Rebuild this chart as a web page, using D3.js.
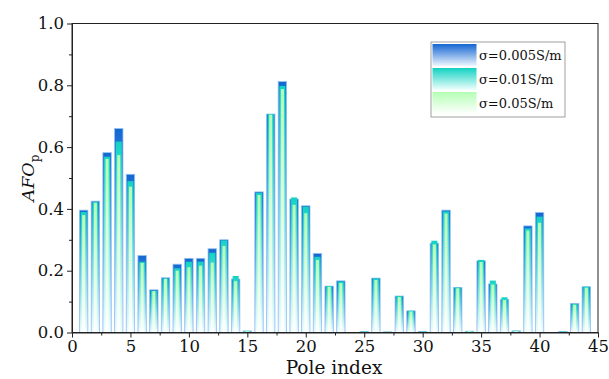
<!DOCTYPE html>
<html><head><meta charset="utf-8">
<script src="https://cdn.jsdelivr.net/npm/d3@7"></script>
<style>body{margin:0;background:#fff}svg{display:block}</style>
</head><body><svg id="c" width="609" height="379"></svg>
<script>
const poles = d3.range(1, 45);
const s005 = [0.396,0.425,0.582,0.660,0.512,0.249,0.138,0.177,0.221,0.240,0.240,0.271,0.300,0.173,0.005,0.455,0.707,0.812,0.432,0.410,0.256,0.150,0.167,0.000,0.003,0.176,0.002,0.118,0.070,0.003,0.289,0.396,0.146,0.004,0.232,0.157,0.107,0.005,0.345,0.388,0.000,0.003,0.094,0.148];
const s01  = [0.390,0.422,0.569,0.618,0.490,0.229,0.135,0.175,0.208,0.229,0.229,0.258,0.298,0.183,0.005,0.452,0.707,0.798,0.437,0.407,0.245,0.150,0.165,0.000,0.003,0.175,0.002,0.118,0.070,0.003,0.297,0.392,0.145,0.005,0.235,0.168,0.114,0.006,0.337,0.375,0.000,0.003,0.092,0.148];
const s05  = [0.380,0.420,0.562,0.574,0.472,0.225,0.134,0.174,0.200,0.211,0.216,0.226,0.280,0.166,0.004,0.445,0.705,0.788,0.413,0.386,0.235,0.148,0.160,0.000,0.002,0.170,0.002,0.115,0.068,0.002,0.285,0.385,0.143,0.004,0.228,0.155,0.105,0.005,0.330,0.355,0.000,0.002,0.090,0.145];
const seriesNames = ["σ=0.005S/m","σ=0.01S/m","σ=0.05S/m"];
const xTicks = [0,5,10,15,20,25,30,35,40,45];
const yTicks = [0,0.2,0.4,0.6,0.8,1.0];

const svg = d3.select("#c");
const L=72, R=598, T=23.5, B=332.5;
const x = d3.scaleLinear().domain([0,45]).range([L,R]);
const y = d3.scaleLinear().domain([0,1]).range([B,T]);
const font = "'DejaVu Serif',serif";

const defs = svg.append("defs");
const grads = [
  {id:"gBlue", top:"#1466d2", mid:"#5aa2ea", bot:"#eef6ff", stroke:"#8ec0f2", w:0.72},
  {id:"gCyan", top:"#12d2c2", mid:"#7eeae0", bot:"#f0fffd", stroke:"none", w:0.52},
  {id:"gGreen", top:"#b4ffb4", mid:"#dcffdc", bot:"#ffffff", stroke:"none", w:0.26}
];
grads.forEach(g=>{
  const lg = defs.append("linearGradient").attr("id",g.id).attr("x1",0).attr("y1",0).attr("x2",0).attr("y2",1);
  lg.append("stop").attr("offset","0%").attr("stop-color",g.top);
  lg.append("stop").attr("offset","45%").attr("stop-color",g.mid);
  lg.append("stop").attr("offset","100%").attr("stop-color",g.bot);
});

const data = [s005, s01, s05];
data.forEach((vals,si)=>{
  const g = grads[si];
  const bw = (x(1)-x(0))*g.w;
  svg.append("g").selectAll("rect").data(poles.map((p,i)=>({p,v:vals[i]})).filter(d=>d.v>0))
    .join("rect")
    .attr("x",d=>x(d.p)-bw/2)
    .attr("width",bw)
    .attr("y",d=>y(d.v))
    .attr("height",d=>Math.max(0.8,B-y(d.v)))
    .attr("fill",`url(#${g.id})`)
    .attr("stroke",g.stroke)
    .attr("stroke-width",g.stroke==="none"?0:0.8);
});

// frame
svg.append("rect").attr("x",L).attr("y",T).attr("width",R-L).attr("height",B-T)
  .attr("fill","none").attr("stroke","#222").attr("stroke-width",1);

// axes
svg.append("g").attr("transform",`translate(0,${B})`)
  .call(d3.axisBottom(x).tickValues(xTicks).tickSize(5).tickSizeOuter(0).tickPadding(3));
svg.append("g").attr("transform",`translate(0,${B})`)
  .call(d3.axisBottom(x).tickValues(d3.range(2.5,45,5)).tickSize(3).tickFormat("").tickSizeOuter(0))
  .select(".domain").remove();
svg.append("g").attr("transform",`translate(${L},0)`)
  .call(d3.axisLeft(y).tickValues(yTicks).tickFormat(d3.format(".1f")).tickSize(5).tickSizeOuter(0).tickPadding(3));
svg.append("g").attr("transform",`translate(${L},0)`)
  .call(d3.axisLeft(y).tickValues([0.1,0.3,0.5,0.7,0.9]).tickSize(3).tickFormat("").tickSizeOuter(0))
  .select(".domain").remove();
svg.selectAll(".tick line, .domain").attr("stroke","#222");
svg.selectAll(".tick text").attr("font-family",font).attr("font-size",16.5).attr("fill","#111");

// axis titles
svg.append("text").attr("x",334).attr("y",374).attr("text-anchor","middle")
  .attr("font-family",font).attr("font-size",18.5).attr("fill","#111").text("Pole index");
const yt = svg.append("text").attr("transform","translate(34,178) rotate(-90)").attr("text-anchor","middle")
  .attr("font-family",font).attr("font-size",17.5).attr("fill","#111");
yt.append("tspan").attr("font-style","italic").text("AFO");
yt.append("tspan").attr("font-size",12).attr("dy",5).text("p");

// legend
const lg = svg.append("g").attr("transform","translate(431,42)");
lg.append("rect").attr("x",0).attr("y",0).attr("width",134).attr("height",75)
  .attr("fill","#fff").attr("stroke","#888").attr("stroke-width",0.8);
grads.forEach((g,i)=>{
  const lgg = defs.append("linearGradient").attr("id","L"+g.id).attr("x1",0).attr("y1",0).attr("x2",0).attr("y2",1);
  lgg.append("stop").attr("offset","0%").attr("stop-color",g.top);
  lgg.append("stop").attr("offset","100%").attr("stop-color",g.bot);
  lg.append("rect").attr("x",1.5).attr("y",2+i*24).attr("width",44).attr("height",22).attr("fill",`url(#L${g.id})`);
  lg.append("text").attr("x",48).attr("y",18+i*24).attr("font-family",font).attr("font-size",13).attr("fill","#111").text(seriesNames[i]);
});
</script></body></html>
